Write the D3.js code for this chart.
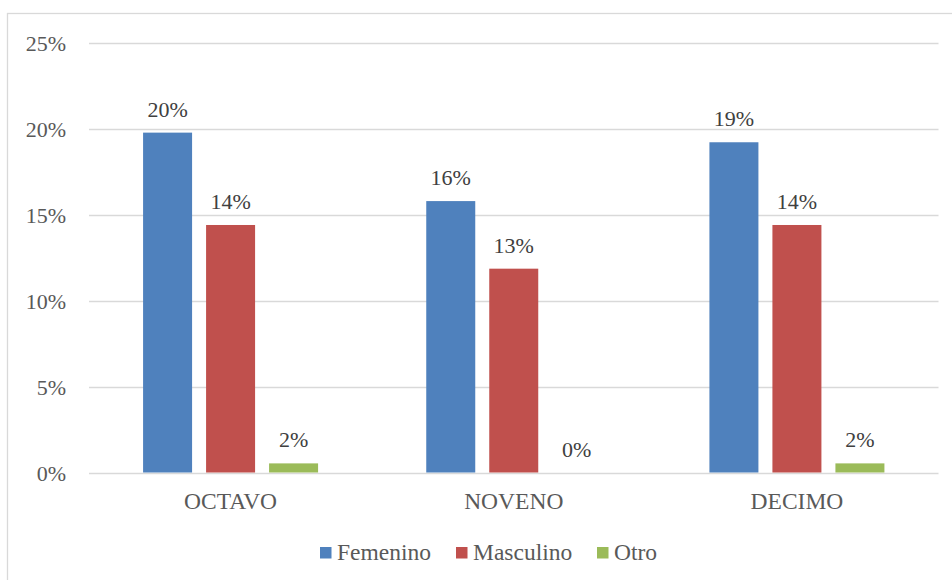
<!DOCTYPE html>
<html><head><meta charset="utf-8">
<script src="https://cdn.jsdelivr.net/npm/d3@7"></script>
<style>
html,body{margin:0;padding:0;background:#fff;}
svg{display:block;}
</style></head>
<body>
<svg id="chart" width="952" height="580"></svg>
<script>
const categories = ["OCTAVO", "NOVENO", "DECIMO"];
const seriesNames = ["Femenino", "Masculino", "Otro"];
const seriesColors = ["#4F81BD", "#C0504D", "#9BBB59"];
const femenino = [19.76, 15.78, 19.2];
const masculino = [14.39, 11.85, 14.39];
const otro = [0.53, 0, 0.53];
const femeninoLabels = ["20%", "16%", "19%"];
const masculinoLabels = ["14%", "13%", "14%"];
const otroLabels = ["2%", "0%", "2%"];
const yTicks = [0, 5, 10, 15, 20, 25];

(function () {
const values = [femenino, masculino, otro];
const labels = [femeninoLabels, masculinoLabels, otroLabels];
const FONT = "Liberation Serif";
const FS = 22, FSW = 23.5;

const svg = d3.select("#chart");
svg.append("rect").attr("x", 7.5).attr("y", 13.5).attr("width", 960).attr("height", 600)
  .attr("fill", "#fff").attr("stroke", "#d9d9d9").attr("stroke-width", 1.3);

const pLeft = 89, pRight = 938.5, pTop = 42.5, pBottom = 472.5;
const y = d3.scaleLinear().domain([0, 25]).range([pBottom, pTop]);
const x0 = d3.scaleBand().domain(categories).range([pLeft, pRight]).padding(0);
const groupW = 175;
const x1 = d3.scaleBand().domain(seriesNames).range([0, groupW]).paddingInner(14/63).paddingOuter(0);

svg.append("g").selectAll("line").data(yTicks).join("line")
  .attr("x1", pLeft).attr("x2", pRight)
  .attr("y1", d => Math.round(y(d)) + 0.5).attr("y2", d => Math.round(y(d)) + 0.5)
  .attr("stroke", "#d9d9d9").attr("stroke-width", 1.5);

const yAxis = d3.axisLeft(y).tickValues(yTicks).tickFormat(d => d + "%").tickSize(0).tickPadding(0);
const ya = svg.append("g").attr("transform", "translate(66,0)").call(yAxis);
ya.attr("font-family", FONT).attr("font-size", FS);
ya.select(".domain").remove();
ya.selectAll("text").attr("font-family", FONT).attr("fill", "#595959").attr("dy", "0.36em");

const xAxis = d3.axisBottom(x0).tickSize(0).tickPadding(0);
const xa = svg.append("g").attr("transform", "translate(0,492)").call(xAxis);
xa.attr("font-family", FONT).attr("font-size", FSW);
xa.select(".domain").remove();
xa.selectAll("text").attr("font-family", FONT).attr("fill", "#595959").attr("dy", "0.71em");

seriesNames.forEach((s, si) => {
  const g = svg.append("g");
  const off = (x0.bandwidth() - groupW) / 2;
  g.selectAll("rect").data(categories).join("rect")
    .attr("x", (c) => x0(c) + off + x1(s))
    .attr("width", x1.bandwidth())
    .attr("y", (c, i) => y(values[si][i]))
    .attr("height", (c, i) => pBottom - y(values[si][i]))
    .attr("fill", seriesColors[si]);
  g.selectAll("text").data(categories).join("text")
    .attr("x", (c) => x0(c) + off + x1(s) + x1.bandwidth() / 2)
    .attr("y", (c, i) => y(values[si][i]) - 16)
    .attr("text-anchor", "middle")
    .attr("font-family", FONT)
    .attr("font-size", FS).attr("fill", "#404040")
    .text((c, i) => labels[si][i]);
});

const legendX = [320, 456, 597];
const lg = svg.append("g");
seriesNames.forEach((s, i) => {
  lg.append("rect").attr("x", legendX[i]).attr("y", 547).attr("width", 11.5).attr("height", 11.5)
    .attr("fill", seriesColors[i]);
  lg.append("text").attr("x", legendX[i] + 17).attr("y", 560)
    .attr("font-family", FONT)
    .attr("font-size", FSW).attr("fill", "#595959").text(s);
});
})();
</script>
</body></html>
